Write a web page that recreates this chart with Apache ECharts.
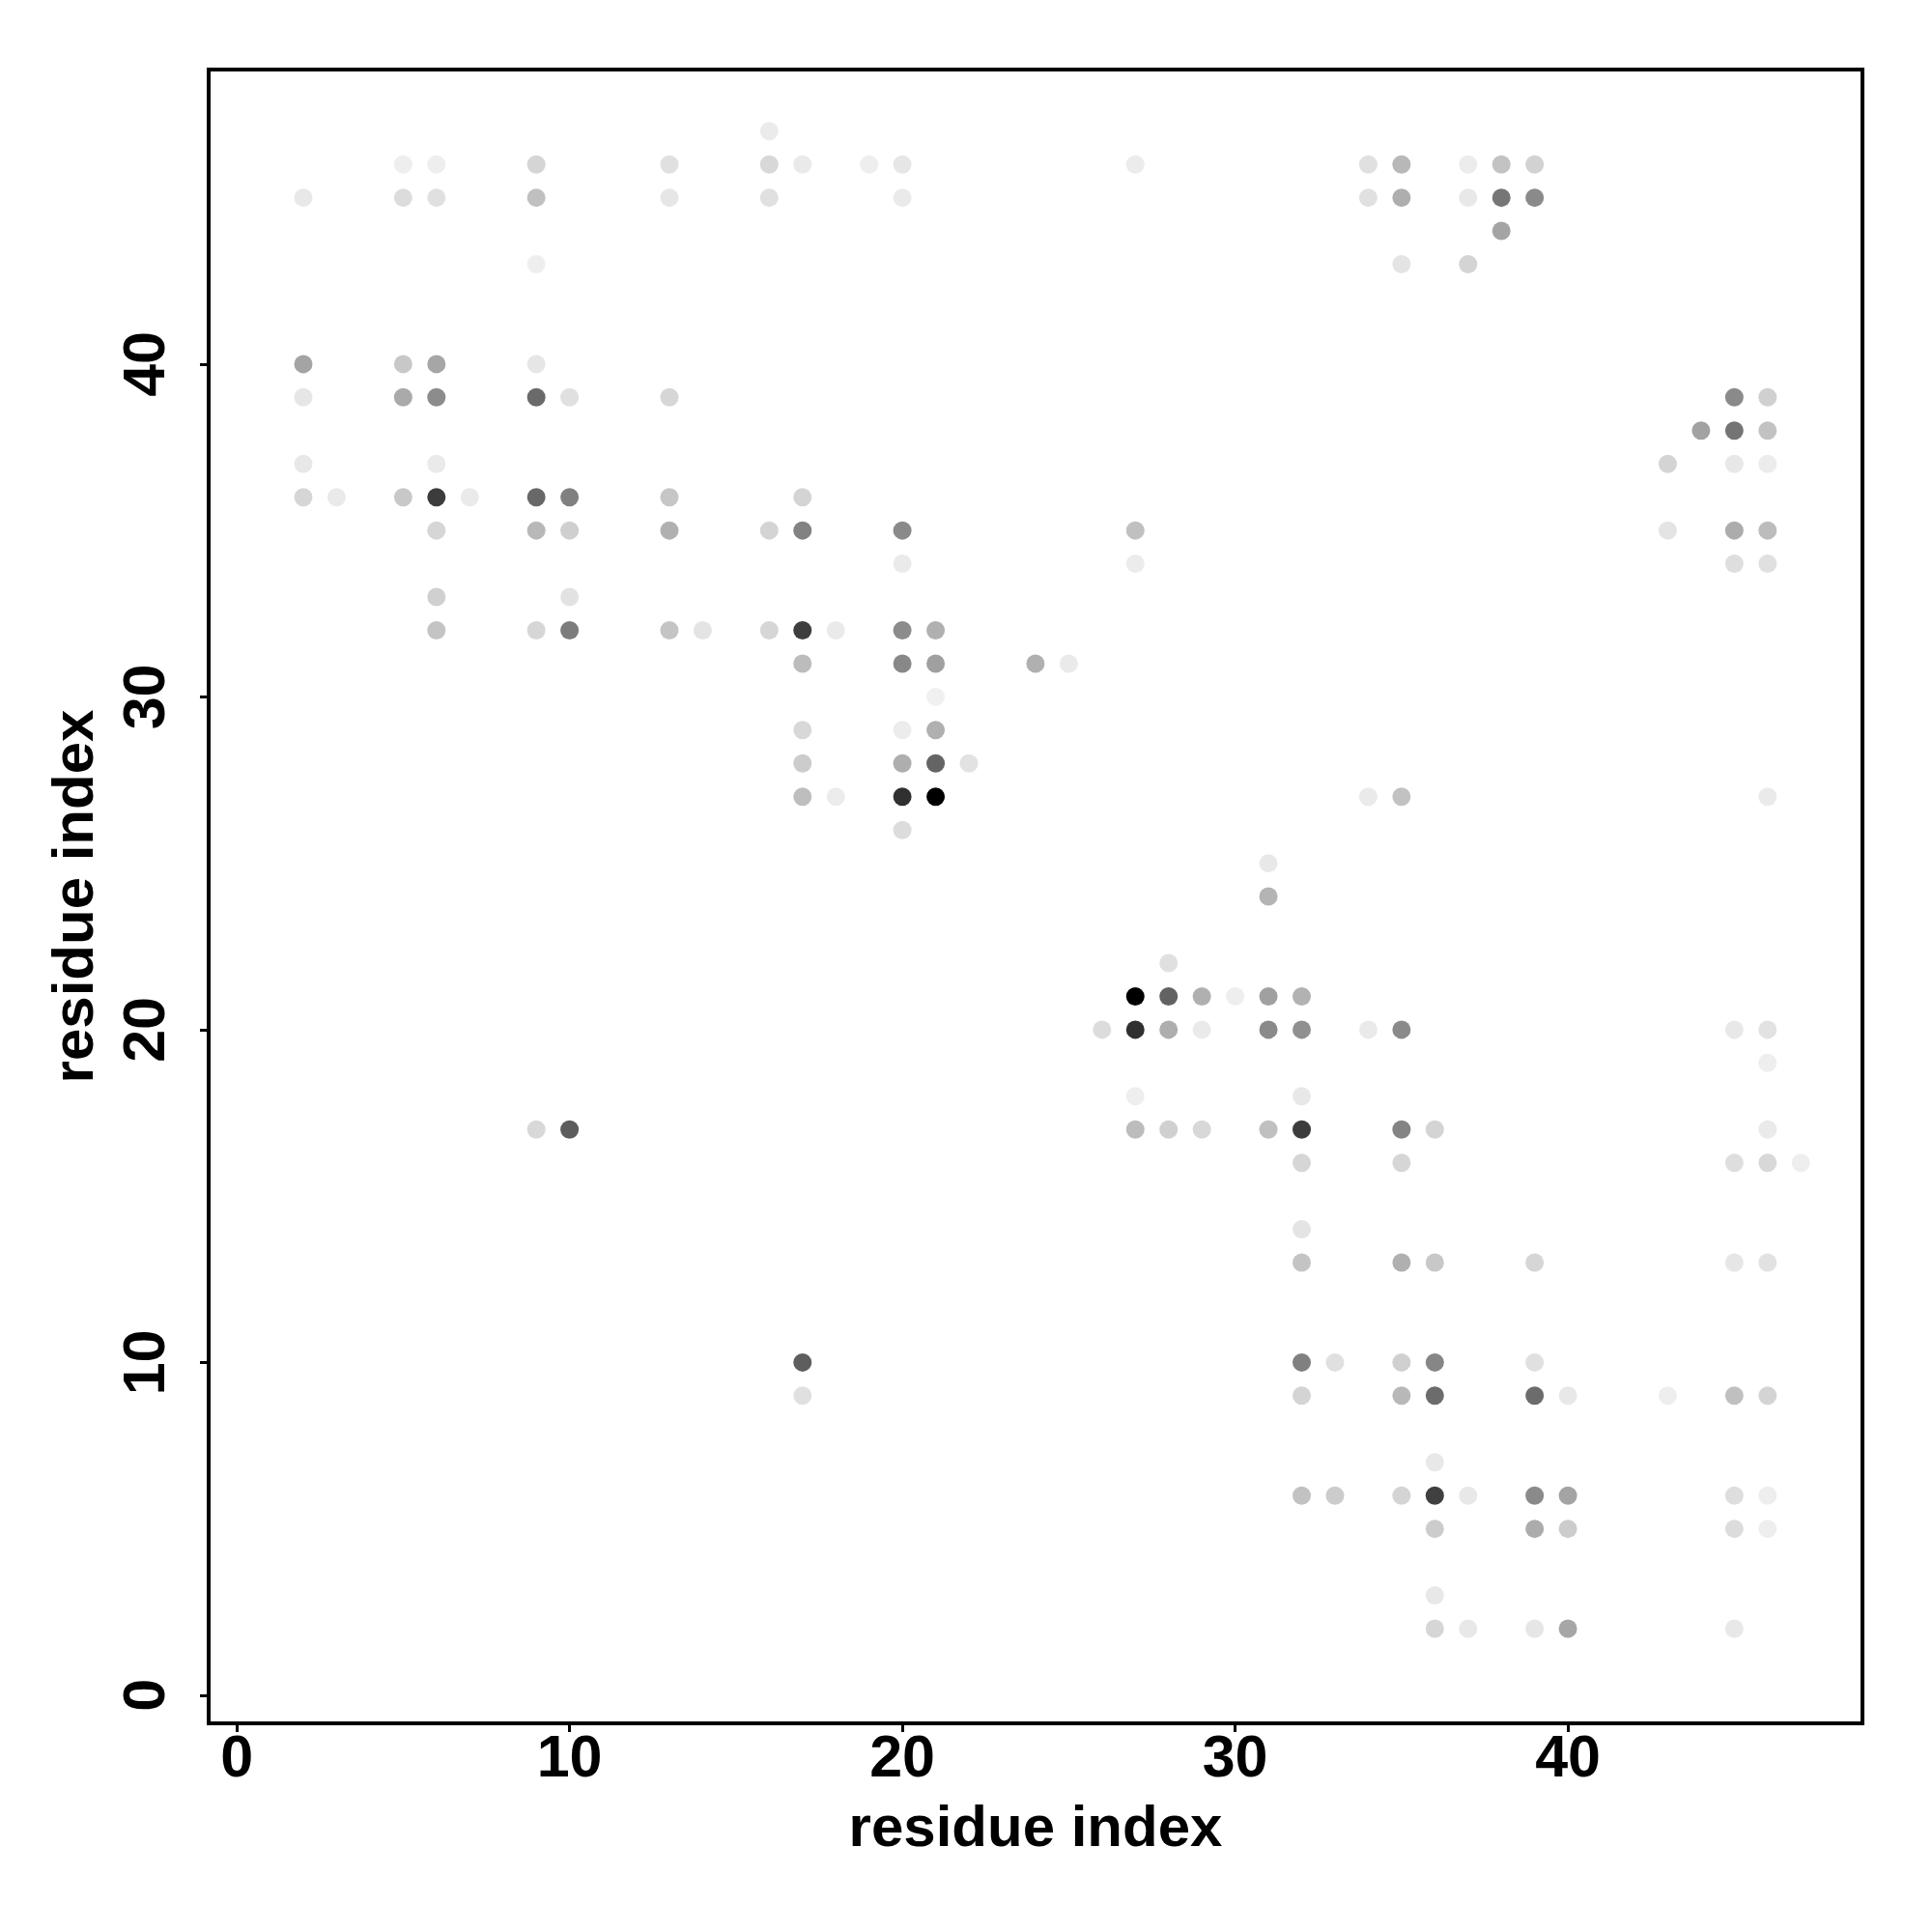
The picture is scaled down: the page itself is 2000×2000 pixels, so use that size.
<!DOCTYPE html>
<html>
<head>
<meta charset="utf-8">
<style>html,body{margin:0;padding:0;background:#fff}#c{width:2000px;height:2000px}</style>
<script src="https://cdn.jsdelivr.net/npm/echarts@6/dist/echarts.min.js"></script>
</head>
<body>
<div id="c"></div>
<script>
const xAxisTicks = [0, 10, 20, 30, 40];
const yAxisTicks = [0, 10, 20, 30, 40];
const axisTitle = 'residue index';

// One line per row of the map: residue on x, residue on y, grey level of the dot
const residueX = [
  16,
  5,6,9,13,16,17,19,20,27,34,35,37,38,39,
  2,5,6,9,13,16,20,34,35,37,38,39,
  38,
  9,35,37,
  2,5,6,9,
  2,5,6,9,10,13,45,46,
  44,45,46,
  2,6,43,45,46,
  2,3,5,6,7,9,10,13,17,
  6,9,10,13,16,17,20,27,43,45,46,
  20,27,45,46,
  6,10,
  6,9,10,13,14,16,17,18,20,21,
  17,20,21,24,25,
  21,
  17,20,21,
  17,20,21,22,
  17,18,20,21,34,35,46,
  20,
  31,
  31,
  28,
  27,28,29,30,31,32,
  26,27,28,29,31,32,34,35,45,46,
  46,
  27,32,
  9,10,27,28,29,31,32,35,36,46,
  32,35,45,46,47,
  32,
  32,35,36,39,45,46,
  17,32,33,35,36,39,
  17,32,35,36,39,40,43,45,46,
  36,
  32,33,35,36,37,39,40,45,46,
  36,39,40,45,46,
  36,
  36,37,39,40,45
];
const residueY = [
  47,
  46,46,46,46,46,46,46,46,46,46,46,46,46,46,
  45,45,45,45,45,45,45,45,45,45,45,45,
  44,
  43,43,43,
  40,40,40,40,
  39,39,39,39,39,39,39,39,
  38,38,38,
  37,37,37,37,37,
  36,36,36,36,36,36,36,36,36,
  35,35,35,35,35,35,35,35,35,35,35,
  34,34,34,34,
  33,33,
  32,32,32,32,32,32,32,32,32,32,
  31,31,31,31,31,
  30,
  29,29,29,
  28,28,28,28,
  27,27,27,27,27,27,27,
  26,
  25,
  24,
  22,
  21,21,21,21,21,21,
  20,20,20,20,20,20,20,20,20,20,
  19,
  18,18,
  17,17,17,17,17,17,17,17,17,17,
  16,16,16,16,16,
  14,
  13,13,13,13,13,13,
  10,10,10,10,10,10,
  9,9,9,9,9,9,9,9,9,
  7,
  6,6,6,6,6,6,6,6,6,
  5,5,5,5,5,
  3,
  2,2,2,2,2
];
const greyLevel = [
  235,
  238,238,213,224,216,234,238,230,236,224,184,236,195,210,
  232,220,224,192,230,224,234,224,174,232,118,138,
  164,
  238,228,212,
  164,200,166,230,
  230,170,140,106,224,214,138,208,
  162,116,194,
  232,234,212,232,236,
  214,234,200,60,234,104,128,198,212,
  214,184,207,176,212,130,138,192,228,172,188,
  234,236,222,224,
  208,226,
  196,214,124,196,228,214,62,234,140,176,
  188,136,160,176,234,
  240,
  216,236,176,
  204,174,100,226,
  190,236,48,0,234,194,234,
  220,
  232,
  180,
  224,
  0,98,176,238,160,178,
  220,48,174,234,138,144,234,138,232,226,
  238,
  238,232,
  216,92,188,208,216,192,60,132,212,234,
  214,214,222,216,238,
  228,
  196,176,200,214,230,226,
  94,128,224,208,134,224,
  224,212,184,108,108,232,238,192,212,
  232,
  194,204,212,64,232,138,164,222,238,
  204,172,204,220,238,
  232,
  214,232,230,166,232
];

const points = residueX.map((x, i) => [x, residueY[i], greyLevel[i]]);
const fontFamily = '"Liberation Sans", Arial, sans-serif';

const chart = echarts.init(document.getElementById('c'), null, {renderer: 'canvas'});
function axis(ticks, extra) {
  return Object.assign({
    type: 'value',
    min: -0.845,
    max: 48.85,
    name: axisTitle,
    nameLocation: 'middle',
    nameTextStyle: {color: '#000', fontFamily, fontWeight: 'bold', fontSize: 60},
    splitLine: {show: false},
    axisLine: {show: false, onZero: false},
    axisTick: {show: true, length: 9, inside: false, customValues: ticks,
               lineStyle: {color: '#000', width: 3}},
  }, extra);
}
chart.setOption({
  animation: false,
  backgroundColor: '#fff',
  grid: {left: 216, right: 72, top: 72, bottom: 216, show: true,
         borderColor: '#000', borderWidth: 4, backgroundColor: 'transparent'},
  xAxis: axis(xAxisTicks, {
    nameGap: 80,
    axisLabel: {customValues: xAxisTicks, color: '#000', fontFamily, fontWeight: 'bold',
                fontSize: 61, margin: 8, showMinLabel: true, showMaxLabel: true}
  }),
  yAxis: axis(yAxisTicks, {
    nameGap: 107,
    axisLabel: {customValues: yAxisTicks, color: '#000', fontFamily, fontWeight: 'bold',
                fontSize: 61, margin: 32, rotate: 90, showMinLabel: true, showMaxLabel: true,
                align: 'center', verticalAlign: 'bottom'}
  }),
  series: [{
    type: 'scatter',
    data: points,
    symbol: 'circle',
    symbolSize: 19,
    encode: {x: 0, y: 1},
    itemStyle: {opacity: 1, color: p => {
      const g = p.data[2];
      return 'rgb(' + g + ',' + g + ',' + g + ')';
    }}
  }]
});
</script>
</body>
</html>
